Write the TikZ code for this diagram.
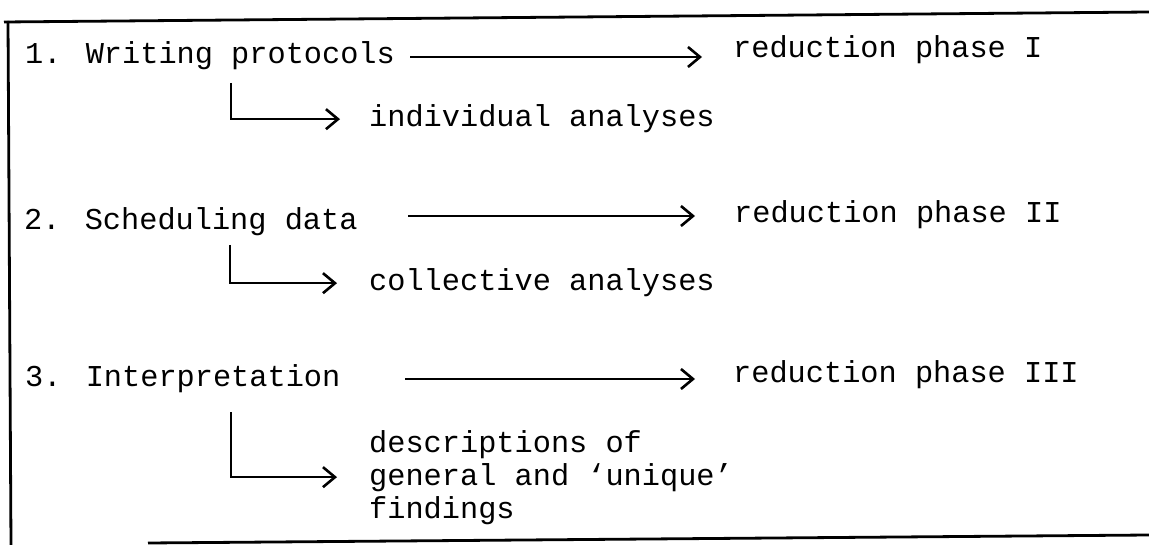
\documentclass[tikz,border=0pt]{standalone}
\usepackage{fontspec}
\newfontfamily\dotmatrix{Liberation Mono}
\usetikzlibrary{arrows.meta,positioning}

\tikzset{
  entry/.style={anchor=base west, inner sep=0pt, font=\dotmatrix\fontsize{30.3}{33}\selectfont},
  flow/.style={line width=2.6pt, -{Straight Barb[length=12pt,width=20pt]}},
  frame/.style={line width=2.8pt}
}

\begin{document}
\begin{tikzpicture}[x=1pt,y=-1pt]
\useasboundingbox (0,0) rectangle (1149,545);

% open frame
\draw[frame] (4,22) -- (1149,12);
\draw[frame] (8,21) -- (11,545);
\draw[frame] (148,543) -- (1149,535);

% step 1
\node[entry] (w1) at (25,64) {1. Writing protocols};
\node[entry] (r1) at (733,58) {reduction phase I};
\node[entry] (i1) at (369,127) {individual analyses};
\coordinate (a1) at (410,57);
\coordinate (b1) at (231,83);
\draw[flow, shorten >=31pt] (a1) -- (a1 -| r1.west);
\draw[flow, shorten >=29pt] (b1) |- (i1.west);

% step 2
\node[entry] (w2) at (24,230) {2. Scheduling data};
\node[entry] (r2) at (734,223) {reduction phase II};
\node[entry] (c2) at (369,291) {collective analyses};
\coordinate (a2) at (408,216);
\coordinate (b2) at (230,245);
\draw[flow, shorten >=39pt] (a2) -- (a2 -| r2.west);
\draw[flow, shorten >=32pt] (b2) |- (c2.west);

% step 3 (base of the block is its last line)
\node[entry] (w3) at (25,387) {3. Interpretation};
\node[entry] (r3) at (733,382) {reduction phase III};
\node[entry, align=left] (d3) at (369,518) {descriptions of\\general and ‘unique’\\findings};
\coordinate (a3) at (405,379);
\coordinate (b3) at (231,412);
\draw[flow, shorten >=38pt] (a3) -- (a3 -| r3.west);
\draw[flow, shorten >=32pt] (b3) |- (d3.west);

\end{tikzpicture}
\end{document}
